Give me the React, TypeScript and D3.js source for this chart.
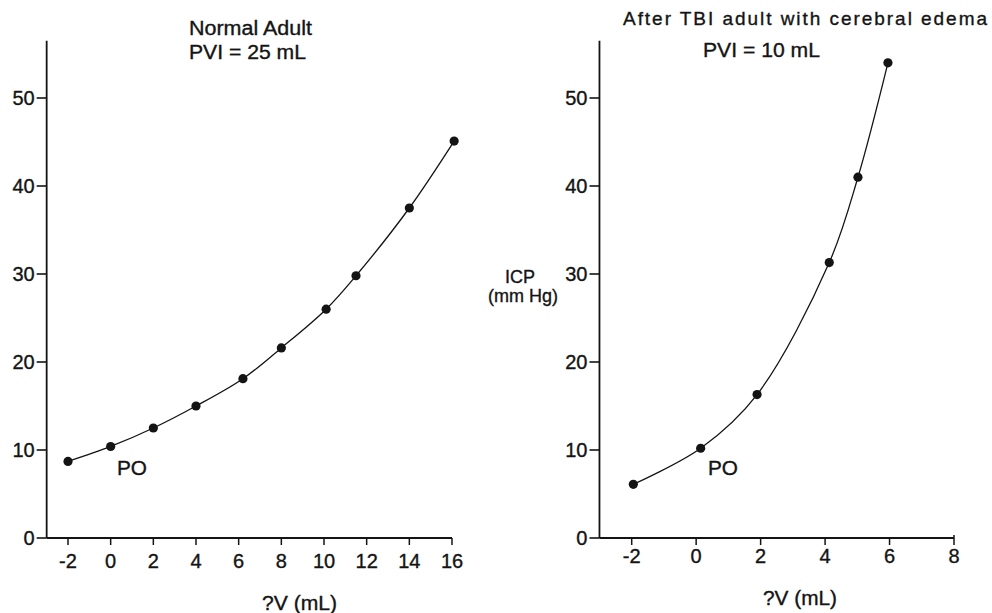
import React from "react";
import * as d3 from "d3";

// Left panel: Normal adult, PVI = 25 mL
const leftDV = [-2, 0, 2, 4, 6.2, 8, 10.1, 11.5, 14, 16.1];
const leftICP = [8.7, 10.4, 12.5, 15.0, 18.1, 21.6, 26.0, 29.8, 37.5, 45.1];
const leftXTicks = [-2, 0, 2, 4, 6, 8, 10, 12, 14, 16];

// Right panel: after TBI with cerebral edema, PVI = 10 mL
const rightDV = [-1.95, 0.14, 1.89, 4.13, 5.02, 5.95];
const rightICP = [6.1, 10.2, 16.3, 31.3, 41.0, 54.0];
const rightXTicks = [-2, 0, 2, 4, 6, 8];

const yTicks = [0, 10, 20, 30, 40, 50];

const FONT = "'Liberation Sans', Arial, Helvetica, sans-serif";
const INK = "#141414";
const TXT = { fontFamily: FONT, fill: INK, stroke: INK, strokeWidth: 0.35 } as const;

type PanelProps = {
  xs: number[];
  ys: number[];
  xTicks: number[];
  xRange: [number, number];
  tickLabelDy: number;
  endTickUp?: boolean;
};

function Panel({ xs, ys, xTicks, xRange, tickLabelDy, endTickUp }: PanelProps) {
  const x = d3
    .scaleLinear()
    .domain([xTicks[0], xTicks[xTicks.length - 1]])
    .range(xRange);
  const y = d3.scaleLinear().domain([0, 50]).range([538, 98]);
  const x0 = x(-3);
  const xEnd = x(xTicks[xTicks.length - 1]);
  const pts: [number, number][] = xs.map((v, i) => [x(v), y(ys[i])]);
  const line = d3
    .line<[number, number]>()
    .x((d) => d[0])
    .y((d) => d[1])
    .curve(d3.curveCatmullRom.alpha(0.5));
  return (
    <g>
      {/* y axis */}
      <line x1={x0} x2={x0} y1={y(0)} y2={y(56.5)} stroke={INK} strokeWidth={1.8} />
      {yTicks.map((t) => (
        <g key={"y" + t}>
          <line x1={x0 - 10} x2={x0} y1={y(t)} y2={y(t)} stroke={INK} strokeWidth={1.6} />
          <text x={x0 - 12} y={y(t)} dy="0.36em" textAnchor="end" fontSize={20} {...TXT}>
            {t}
          </text>
        </g>
      ))}
      {/* x axis */}
      <line x1={x0} x2={xEnd} y1={y(0)} y2={y(0)} stroke={INK} strokeWidth={1.8} />
      {xTicks.map((t, i) => (
        <g key={"x" + t}>
          <line
            x1={x(t)}
            x2={x(t)}
            y1={endTickUp && i === xTicks.length - 1 ? y(0) - 3 : y(0)}
            y2={y(0) + 7}
            stroke={INK}
            strokeWidth={1.5}
          />
          <text x={x(t)} y={y(0) + tickLabelDy} textAnchor="middle" fontSize={20} {...TXT}>
            {t}
          </text>
        </g>
      ))}
      {/* curve */}
      <path d={line(pts) || ""} fill="none" stroke={INK} strokeWidth={1.3} />
      {pts.map((p, i) => (
        <circle key={"p" + i} cx={p[0]} cy={p[1]} r={4.6} fill={INK} />
      ))}
    </g>
  );
}

export default function App() {
  return (
    <svg
      width={992}
      height={613}
      viewBox="0 0 992 613"
      style={{ position: "absolute", left: 0, top: 0, background: "#fff" }}
    >
      <rect x={0} y={0} width={992} height={613} fill="#fff" />
      <Panel xs={leftDV} ys={leftICP} xTicks={leftXTicks} xRange={[68, 452]} tickLabelDy={30} />
      <Panel
        xs={rightDV}
        ys={rightICP}
        xTicks={rightXTicks}
        xRange={[631.7, 954]}
        tickLabelDy={25}
        endTickUp
      />

      {/* Left titles */}
      <text x={189} y={35} fontSize={20} {...TXT} textLength={123} lengthAdjust="spacingAndGlyphs">
        Normal Adult
      </text>
      <text x={189} y={59} fontSize={20} {...TXT} textLength={117} lengthAdjust="spacingAndGlyphs">
        PVI = 25 mL
      </text>
      <text x={117} y={475} fontSize={20} {...TXT} textLength={30} lengthAdjust="spacingAndGlyphs">
        PO
      </text>
      <text x={262} y={610} fontSize={20} {...TXT} textLength={75} lengthAdjust="spacingAndGlyphs">
        ?V (mL)
      </text>

      {/* Right titles */}
      <text x={623} y={25} fontSize={19} {...TXT} textLength={364} lengthAdjust="spacing">
        After TBI adult with cerebral edema
      </text>
      <text x={703} y={57} fontSize={20} {...TXT} textLength={117} lengthAdjust="spacingAndGlyphs">
        PVI = 10 mL
      </text>
      <text x={708} y={475} fontSize={20} {...TXT} textLength={30} lengthAdjust="spacingAndGlyphs">
        PO
      </text>
      <text x={763} y={605} fontSize={20} {...TXT} textLength={74} lengthAdjust="spacingAndGlyphs">
        ?V (mL)
      </text>
      <text x={520} y={283} textAnchor="middle" fontSize={18} {...TXT}>
        ICP
      </text>
      <text x={523} y={302} textAnchor="middle" fontSize={18} {...TXT}>
        (mm Hg)
      </text>
    </svg>
  );
}
